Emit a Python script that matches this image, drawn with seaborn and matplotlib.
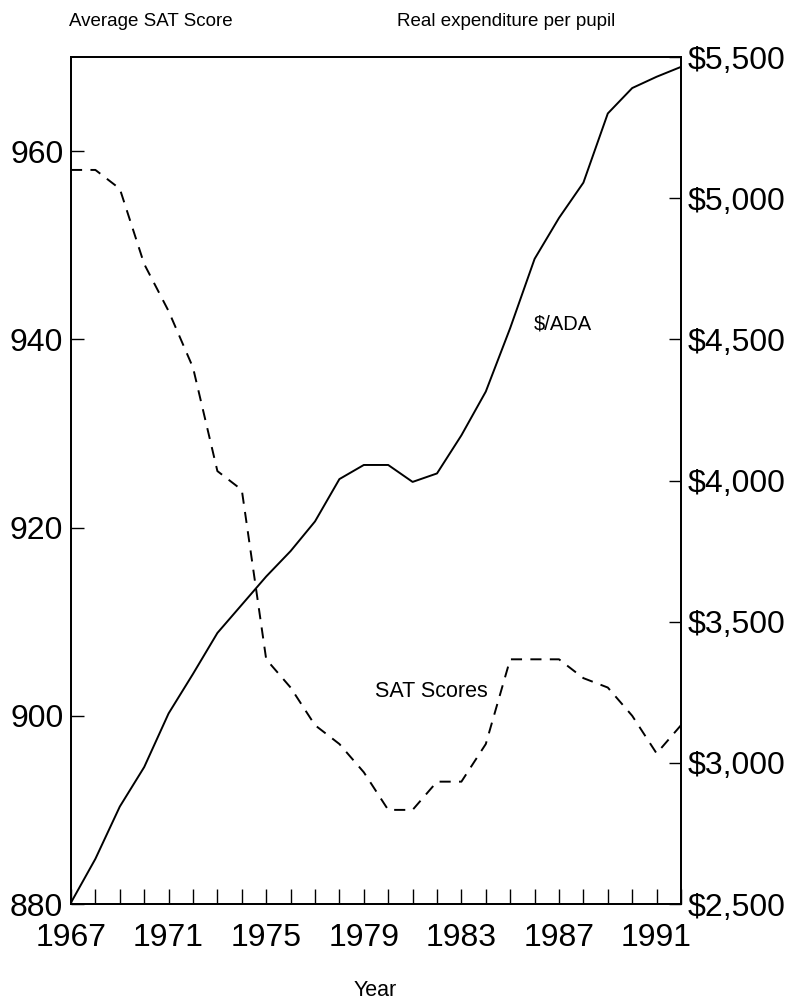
import numpy as np
import pandas as pd
import matplotlib
matplotlib.use('Agg')
import matplotlib.pyplot as plt
import seaborn as sns
from matplotlib.ticker import FuncFormatter, MultipleLocator

# data
years = list(range(1967, 1993))
sat_scores = [958, 958, 956, 948, 943, 937, 926, 924, 906, 903, 899, 897, 894,
              890, 890, 893, 893, 897, 906, 906, 906, 904, 903, 900, 896, 899]
spending = [2505, 2660, 2845, 2985, 3175, 3315, 3460, 3560, 3660, 3750, 3855, 4005, 4055,
            4055, 3995, 4025, 4160, 4315, 4540, 4785, 4930, 5055, 5300, 5390, 5430, 5465]

sat_ticks = [880, 900, 920, 940, 960]
spend_ticks = [2500, 3000, 3500, 4000, 4500, 5000, 5500]
year_labels = list(range(1967, 1992, 4))

sns.set_style("ticks")
plt.rcParams['font.family'] = ['Liberation Sans', 'DejaVu Sans']
plt.rcParams['lines.scale_dashes'] = False
plt.rcParams['text.color'] = 'black'
plt.rcParams['xtick.color'] = 'black'
plt.rcParams['ytick.color'] = 'black'
plt.rcParams['xtick.labelcolor'] = 'black'
plt.rcParams['ytick.labelcolor'] = 'black'

df = pd.DataFrame({'Year': years, 'SAT': sat_scores, 'Spending': spending})

fig = plt.figure(figsize=(7.99, 10.06), dpi=100)
ax = fig.add_axes([71 / 799, 1 - 904 / 1006, 610 / 799, 847 / 1006])
ax2 = ax.twinx()

sns.lineplot(data=df, x='Year', y='SAT', ax=ax, color='black', lw=1.4,
             linestyle=(0, (8, 6)))
sns.lineplot(data=df, x='Year', y='Spending', ax=ax2, color='black', lw=1.4)

ax.set_xlim(1967, 1992)
ax.set_ylim(880, 970)
ax2.set_ylim(2500, 5500)

ax.set_xticks(year_labels)
ax.xaxis.set_minor_locator(MultipleLocator(1))
ax.set_yticks(sat_ticks)
ax2.set_yticks(spend_ticks)
ax2.yaxis.set_major_formatter(FuncFormatter(lambda v, p: f'${v:,.0f}'))

ax.set_xlabel('')
ax.set_ylabel('')
ax2.set_ylabel('')

ax.tick_params(axis='x', which='both', direction='in', length=11, width=1,
               labelsize=23, pad=14)
ax.tick_params(axis='y', direction='in', length=9, width=1,
               labelsize=23, pad=5.5)
ax2.tick_params(axis='y', direction='in', length=9, width=1,
                labelsize=23, pad=5)

for a in (ax, ax2):
    for s in a.spines.values():
        s.set_visible(True)
        s.set_color('black')
        s.set_linewidth(1.3)
    a.grid(False)

# annotations
ax.text(1979.45, 902.6, 'SAT Scores', fontsize=15.5, ha='left', va='center')
ax2.text(1985.95, 4556, '$/ADA', fontsize=14.5, ha='left', va='center')

fig.text(69 / 799, 1 - 21 / 1006, 'Average SAT Score', fontsize=13.5,
         ha='left', va='center')
fig.text(397 / 799, 1 - 21 / 1006, 'Real expenditure per pupil', fontsize=13.5,
         ha='left', va='center')
fig.text(375 / 799, 1 - 990 / 1006, 'Year', fontsize=15.5,
         ha='center', va='center')

fig.savefig('out.png', dpi=100)
